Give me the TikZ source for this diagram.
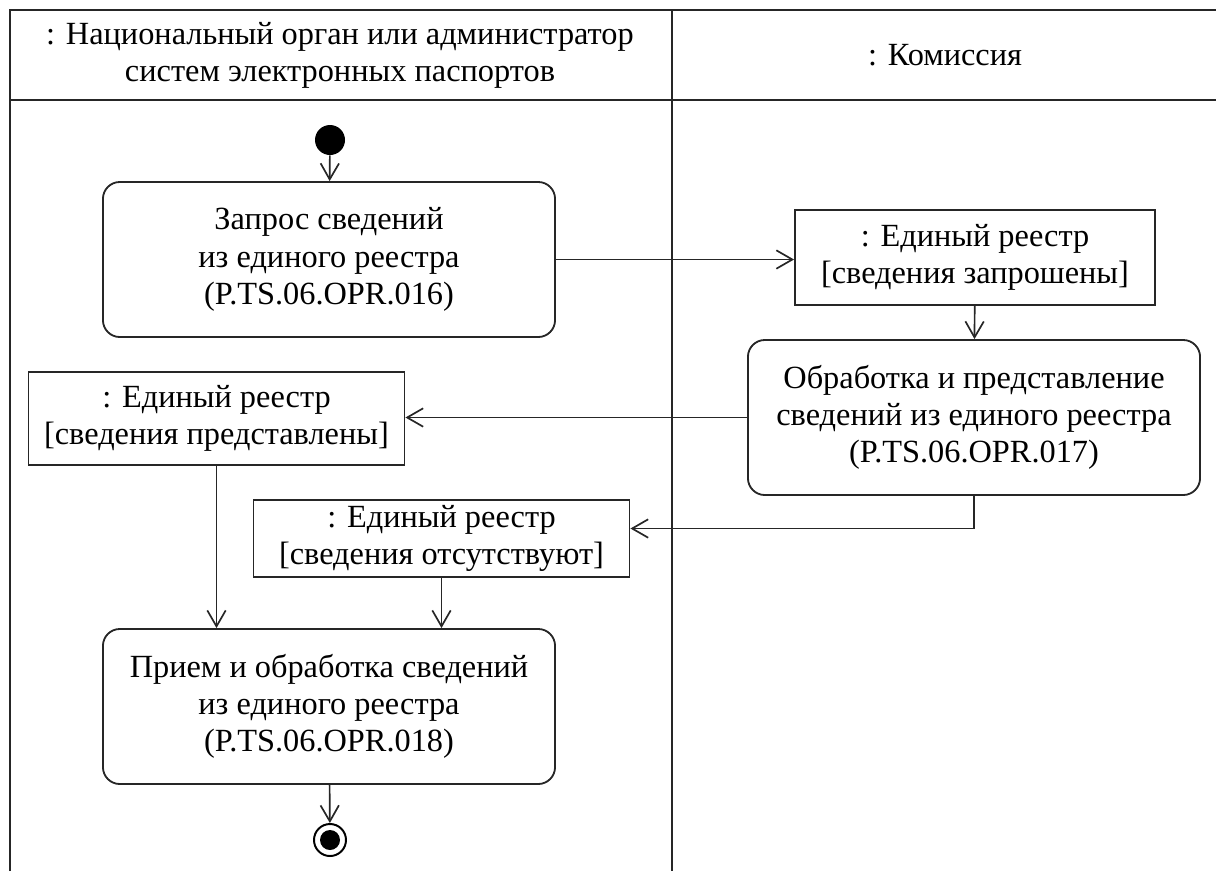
\documentclass[tikz,border=0pt]{standalone}
\usepackage{fontspec}
\setmainfont{Liberation Serif}
\usetikzlibrary{arrows.meta}
\tikzset{
  carril/.style={line width=1.3pt, black!85},
  accion/.style={draw, line width=1.3pt, black!85, text=black, rounded corners=12pt, align=center,
    minimum width=11.3cm, minimum height=3.875cm, font=\fontsize{23}{26.5}\selectfont},
  objeto/.style={draw, line width=1.3pt, black!85, text=black, align=center, inner sep=0pt,
    minimum width=9.4cm, font=\fontsize{23}{26.5}\selectfont},
  flujo/.style={line width=1.2pt, black!85, -{Straight Barb[length=4mm,width=4.6mm,line width=1.2pt]}},
  titulo/.style={align=center, font=\fontsize{23}{26.5}\selectfont}
}
\begin{document}
\begin{tikzpicture}[x=0.025cm,y=-0.025cm]
\useasboundingbox (0,0) rectangle (1217,871);

% Carriles
\draw[carril] (10,871) -- (10,10) -- (1216,10);
\draw[carril] (10,100) -- (1216,100);
\draw[carril] (672,10) -- (672,871);
\node[titulo] (carrilA) at (340,55) {: Национальный орган или администратор\\систем электронных паспортов};
\node[titulo] (carrilB) at (945,55) {: Комиссия};

% Nodo inicial
\fill (330,140) circle (15) coordinate (inicio);
\node[circle, inner sep=0pt, minimum size=0.75cm] (ini) at (330,140) {};

% Acciones
\node[accion] (accion1) at (329,259.5) {Запрос сведений\\из единого реестра\\(P.TS.06.OPR.016)};
\node[accion] (accion2) at (974,417.5) {Обработка и представление\\сведений из единого реестра\\(P.TS.06.OPR.017)};
\node[accion] (accion3) at (329,706.5) {Прием и обработка сведений\\из единого реестра\\(P.TS.06.OPR.018)};

% Objetos
\node[objeto, minimum width=9cm, minimum height=2.375cm] (obj1) at (975,257.5) {: Единый реестр\\{}[сведения запрошены]};
\node[objeto, minimum height=2.325cm] (obj2) at (216.5,418.5) {: Единый реестр\\{}[сведения представлены]};
\node[objeto, minimum height=1.925cm] (obj3) at (441.5,538.5) {: Единый реестр\\{}[сведения отсутствуют]};

% Nodo final
\node[circle, draw, line width=1.4pt, inner sep=0pt, minimum size=0.8cm] (fin) at (330,840) {};
\fill (fin) circle (10);

% Flujos
\draw[flujo] (ini) -- (accion1);
\draw[flujo] (accion1.east) -- (accion1.east -| obj1.west);
\draw[flujo] (obj1) -- (accion2);
\draw[flujo] (accion2.west) -- (accion2.west -| obj2.east);
\draw[flujo] (accion2.south) |- ([yshift=2.5mm]obj3.east);
\draw[flujo] (obj2.south) -- (obj2.south |- accion3.north);
\draw[flujo] (obj3.south) -- (obj3.south |- accion3.north);
\draw[flujo] (accion3) -- (fin);
\end{tikzpicture}
\end{document}
